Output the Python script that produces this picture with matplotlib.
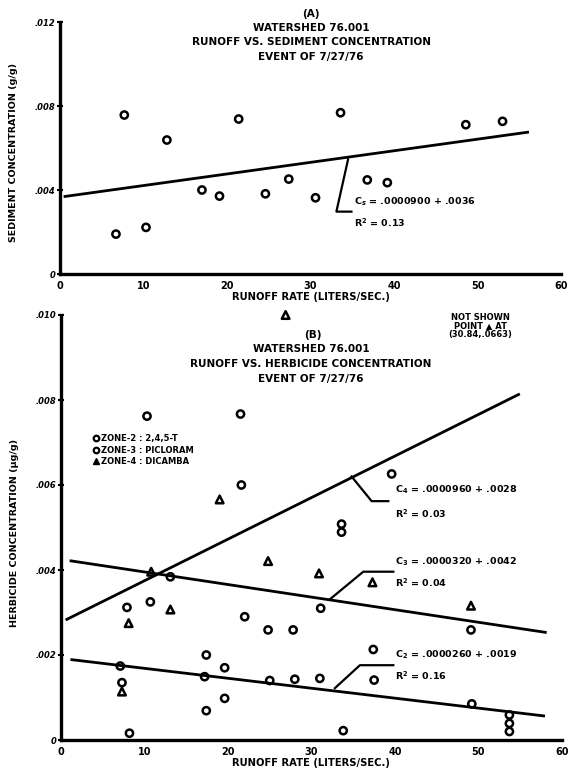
import matplotlib
matplotlib.use("Agg")
import matplotlib.pyplot as plt
from matplotlib.lines import Line2D
import numpy as np

plt.rcParams['font.family'] = ['DejaVu Sans']
plt.rcParams['font.weight'] = 'bold'

# ---------------- Panel A data ----------------
a_runoff = [6.7, 7.7, 10.3, 12.8, 17.0, 19.1, 21.4, 24.6, 27.4, 30.6, 33.6, 36.8, 39.2, 48.6, 53.0]
a_sed = [.0019, .00757, .00222, .00638, .0040, .00371, .00738, .00382, .00452,
         .00363, .00768, .00448, .00435, .00711, .00727]
a_fit = dict(intercept=.00366, slope=.0000552, q0=0.6, q1=56.0)

# ---------------- Panel B data ----------------
z2_runoff = [17.4, 19.6, 7.1, 7.3, 17.2, 19.6, 17.4, 8.2, 25.0, 37.4, 28.0, 31.0, 37.5,
             49.2, 53.7, 53.7, 53.7, 33.8]
z2_conc = [.0020, .0017, .00174, .00135, .00149, .00098, .00069, .00016, .0014, .00213,
           .00143, .00145, .00141, .00085, .00059, .00039, .0002, .00022]
z3_runoff = [10.3, 21.5, 21.6, 39.6, 33.6, 33.6, 13.1, 7.9, 10.7, 22.0, 24.8, 31.1, 27.8, 49.1]
z3_conc = [.00762, .00767, .0060, .00626, .00508, .00489, .00384, .00312, .00325, .0029,
           .00259, .0031, .00259, .00259]
z4_runoff = [10.8, 8.1, 13.1, 24.8, 30.9, 37.3, 49.1, 7.3, 19.0, 26.9]
z4_conc = [.00396, .00275, .00307, .00421, .00392, .00371, .00316, .00114, .00566, .0100]

fits_b = {
    'C4': dict(intercept=.00277, slope=.0000978, q0=0.7, q1=54.8),
    'C3': dict(intercept=.00425, slope=-.0000296, q0=1.2, q1=58.0),
    'C2': dict(intercept=.00192, slope=-.0000234, q0=1.3, q1=57.8),
}

x_ticks = [0, 10, 20, 30, 40, 50, 60]
a_yticks = [0, .004, .008, .012]
a_ylabels = ['0', '.004', '.008', '.012']
b_yticks = [0, .002, .004, .006, .008, .010]
b_ylabels = ['0', '.002', '.004', '.006', '.008', '.010']
legend_labels = ['ZONE-2 : 2,4,5-T', 'ZONE-3 : PICLORAM', 'ZONE-4 : DICAMBA']

W, H = 569, 771
fig = plt.figure(figsize=(W / 100, H / 100), dpi=100)
fig.patch.set_facecolor('white')


def pos(x0, y0, x1, y1):
    return [x0 / W, 1 - y1 / H, (x1 - x0) / W, (y1 - y0) / H]


def ftext(x, y, s, **kw):
    fig.text(x / W, 1 - y / H, s, fontweight='bold', **kw)


def style(ax, yt, yl, ytop):
    for s in ['top', 'right']:
        ax.spines[s].set_visible(False)
    for s in ['left', 'bottom']:
        ax.spines[s].set_linewidth(2.4)
        ax.spines[s].set_color('black')
    ax.set_xlim(0, 60)
    ax.set_ylim(0, ytop)
    ax.set_xticks(x_ticks)
    ax.set_xticklabels([str(t) for t in x_ticks], fontsize=7, fontweight='bold')
    ax.set_yticks(yt)
    ax.set_yticklabels(yl, fontsize=6, fontweight='bold', style='italic')
    ax.tick_params(axis='x', length=0, pad=5)
    ax.tick_params(axis='y', direction='inout', length=5, width=1.5, pad=1)
    ax.set_facecolor('white')


mk = dict(facecolor='none', edgecolor='black', linewidths=1.8, clip_on=False, zorder=3)
MS = 27

# ---------- Panel A ----------
axA = fig.add_axes(pos(60, 22, 561, 274))
style(axA, a_yticks, a_ylabels, .012)
axA.scatter(a_runoff, a_sed, s=MS, marker='o', **mk)
q = np.array([a_fit['q0'], a_fit['q1']])
axA.plot(q, a_fit['intercept'] + a_fit['slope'] * q, color='black', lw=2.0)
axA.plot([34.5, 33.1, 34.9], [.00546, .00297, .00297], color='black', lw=1.6)
axA.text(35.2, .00344, r'C$_s$ = .0000900 + .0036', fontsize=6.8, fontweight='bold', va='center')
axA.text(35.2, .00244, r'R$^2$ = 0.13', fontsize=6.8, fontweight='bold', va='center')

ftext(311, 14, '(A)', fontsize=7.5, ha='center', va='center')
ftext(311, 28, 'WATERSHED 76.001', fontsize=7.5, ha='center', va='center')
ftext(311, 42, 'RUNOFF VS. SEDIMENT CONCENTRATION', fontsize=7.5, ha='center', va='center')
ftext(311, 57, 'EVENT OF 7/27/76', fontsize=7.5, ha='center', va='center')
ftext(311, 297, 'RUNOFF RATE (LITERS/SEC.)', fontsize=7.2, ha='center', va='center')
ftext(14, 152, 'SEDIMENT CONCENTRATION (g/g)', fontsize=6.8, ha='center', va='center', rotation=90)

# ---------- Panel B ----------
axB = fig.add_axes(pos(61, 315, 562, 740))
style(axB, b_yticks, b_ylabels, .010)
axB.scatter(z2_runoff, z2_conc, s=MS, marker='o', **mk)
axB.scatter(z3_runoff, z3_conc, s=MS, marker='o', **mk)
axB.scatter(z4_runoff, z4_conc, s=MS + 3, marker='^', **mk)
for key, f in fits_b.items():
    q = np.array([f['q0'], f['q1']])
    axB.plot(q, f['intercept'] + f['slope'] * q, color='black', lw=2.0)

axB.plot([34.8, 37.2, 39.2], [.0062, .00562, .00562], color='black', lw=1.6)
axB.plot([32.2, 36.2, 39.8], [.00331, .00396, .00396], color='black', lw=1.6)
axB.plot([32.8, 35.8, 39.8], [.00122, .00176, .00176], color='black', lw=1.6)
ann_fs = 6.8
axB.text(40.0, .0059, r'C$_4$ = .0000960 + .0028', fontsize=ann_fs, fontweight='bold', va='center')
axB.text(40.0, .00533, r'R$^2$ = 0.03', fontsize=ann_fs, fontweight='bold', va='center')
axB.text(40.0, .0042, r'C$_3$ = .0000320 + .0042', fontsize=ann_fs, fontweight='bold', va='center')
axB.text(40.0, .00369, r'R$^2$ = 0.04', fontsize=ann_fs, fontweight='bold', va='center')
axB.text(40.0, .0020, r'C$_2$ = .0000260 + .0019', fontsize=ann_fs, fontweight='bold', va='center')
axB.text(40.0, .00151, r'R$^2$ = 0.16', fontsize=ann_fs, fontweight='bold', va='center')

handles = [
    Line2D([], [], ls='none', marker='o', ms=4, mfc='none', mec='black', mew=1.6),
    Line2D([], [], ls='none', marker='o', ms=4, mfc='none', mec='black', mew=1.6),
    Line2D([], [], ls='none', marker='^', ms=4.5, mfc='black', mec='black', mew=1.0),
]
leg = axB.legend(handles=handles, labels=legend_labels, loc='upper left',
                 bbox_to_anchor=(88 / W, 1 - 430 / H), bbox_transform=fig.transFigure,
                 frameon=False, fontsize=6, handletextpad=0.3, labelspacing=0.3,
                 borderpad=0, handlelength=0.8)
for t in leg.get_texts():
    t.set_fontweight('bold')

ftext(313, 335, '(B)', fontsize=7.5, ha='center', va='center')
ftext(311, 349, 'WATERSHED 76.001', fontsize=7.5, ha='center', va='center')
ftext(311, 364, 'RUNOFF VS. HERBICIDE CONCENTRATION', fontsize=7.5, ha='center', va='center')
ftext(311, 379, 'EVENT OF 7/27/76', fontsize=7.5, ha='center', va='center')
ftext(480, 326, 'NOT SHOWN\nPOINT \u25b2 AT\n(30.84,.0663)', fontsize=6, ha='center',
      va='center', linespacing=0.95)
ftext(311, 763, 'RUNOFF RATE (LITERS/SEC.)', fontsize=7.2, ha='center', va='center')
ftext(15, 533, 'HERBICIDE CONCENTRATION (\u00b5g/g)', fontsize=6.8, ha='center', va='center',
      rotation=90)

fig.savefig('out.png', dpi=100, facecolor='white')
